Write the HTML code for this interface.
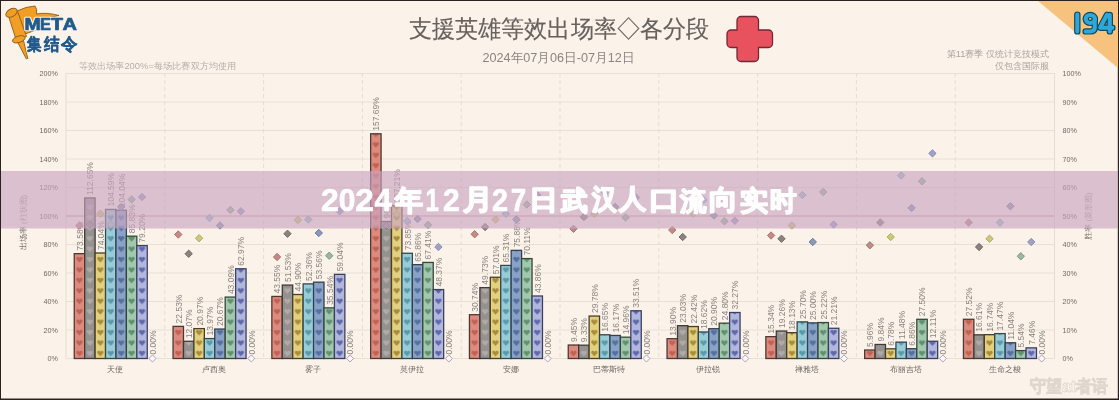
<!DOCTYPE html><html><head><meta charset="utf-8"><style>html,body{margin:0;padding:0;background:#2a2220;}body{width:1119px;height:400px;overflow:hidden;position:relative;font-family:"Liberation Sans",sans-serif;}svg{display:block;position:absolute;left:0;top:0;filter:blur(0.3px);}</style></head><body>
<svg width="1119" height="400" viewBox="0 0 1119 400" font-family="Liberation Sans, sans-serif">
<defs>
<pattern id="p0_0" patternUnits="userSpaceOnUse" x="74.250" y="3.880" width="10.43" height="10.43"><rect width="10.43" height="10.43" fill="#de8a7e"/><path d="M5.2 8.3 L2.3 5.3 Q1.4 3.7 2.8 2.8 Q4.3 2.1 5.2 3.7 Q6.1 2.1 7.6 2.8 Q9.0 3.7 8.1 5.3 Z" fill="#bf6252"/></pattern>
<pattern id="p0_1" patternUnits="userSpaceOnUse" x="84.680" y="3.880" width="10.43" height="10.43"><rect width="10.43" height="10.43" fill="#95918f"/><path d="M5.2 8.3 L2.3 5.3 Q1.4 3.7 2.8 2.8 Q4.3 2.1 5.2 3.7 Q6.1 2.1 7.6 2.8 Q9.0 3.7 8.1 5.3 Z" fill="#b0aaa8"/></pattern>
<pattern id="p0_2" patternUnits="userSpaceOnUse" x="95.110" y="3.880" width="10.43" height="10.43"><rect width="10.43" height="10.43" fill="#e4d17f"/><path d="M5.2 8.3 L2.3 5.3 Q1.4 3.7 2.8 2.8 Q4.3 2.1 5.2 3.7 Q6.1 2.1 7.6 2.8 Q9.0 3.7 8.1 5.3 Z" fill="#a88c3a"/></pattern>
<pattern id="p0_3" patternUnits="userSpaceOnUse" x="105.540" y="3.880" width="10.43" height="10.43"><rect width="10.43" height="10.43" fill="#98cdd8"/><path d="M5.2 8.3 L2.3 5.3 Q1.4 3.7 2.8 2.8 Q4.3 2.1 5.2 3.7 Q6.1 2.1 7.6 2.8 Q9.0 3.7 8.1 5.3 Z" fill="#5a98aa"/></pattern>
<pattern id="p0_4" patternUnits="userSpaceOnUse" x="115.970" y="3.880" width="10.43" height="10.43"><rect width="10.43" height="10.43" fill="#88a2c8"/><path d="M5.2 8.3 L2.3 5.3 Q1.4 3.7 2.8 2.8 Q4.3 2.1 5.2 3.7 Q6.1 2.1 7.6 2.8 Q9.0 3.7 8.1 5.3 Z" fill="#56709e"/></pattern>
<pattern id="p0_5" patternUnits="userSpaceOnUse" x="126.400" y="3.880" width="10.43" height="10.43"><rect width="10.43" height="10.43" fill="#a2c9ae"/><path d="M5.2 8.3 L2.3 5.3 Q1.4 3.7 2.8 2.8 Q4.3 2.1 5.2 3.7 Q6.1 2.1 7.6 2.8 Q9.0 3.7 8.1 5.3 Z" fill="#62906f"/></pattern>
<pattern id="p0_6" patternUnits="userSpaceOnUse" x="136.830" y="3.880" width="10.43" height="10.43"><rect width="10.43" height="10.43" fill="#b2b7de"/><path d="M5.2 8.3 L2.3 5.3 Q1.4 3.7 2.8 2.8 Q4.3 2.1 5.2 3.7 Q6.1 2.1 7.6 2.8 Q9.0 3.7 8.1 5.3 Z" fill="#5f68a8"/></pattern>
<pattern id="p1_0" patternUnits="userSpaceOnUse" x="173.050" y="3.880" width="10.43" height="10.43"><rect width="10.43" height="10.43" fill="#de8a7e"/><path d="M5.2 8.3 L2.3 5.3 Q1.4 3.7 2.8 2.8 Q4.3 2.1 5.2 3.7 Q6.1 2.1 7.6 2.8 Q9.0 3.7 8.1 5.3 Z" fill="#bf6252"/></pattern>
<pattern id="p1_1" patternUnits="userSpaceOnUse" x="183.480" y="3.880" width="10.43" height="10.43"><rect width="10.43" height="10.43" fill="#95918f"/><path d="M5.2 8.3 L2.3 5.3 Q1.4 3.7 2.8 2.8 Q4.3 2.1 5.2 3.7 Q6.1 2.1 7.6 2.8 Q9.0 3.7 8.1 5.3 Z" fill="#b0aaa8"/></pattern>
<pattern id="p1_2" patternUnits="userSpaceOnUse" x="193.910" y="3.880" width="10.43" height="10.43"><rect width="10.43" height="10.43" fill="#e4d17f"/><path d="M5.2 8.3 L2.3 5.3 Q1.4 3.7 2.8 2.8 Q4.3 2.1 5.2 3.7 Q6.1 2.1 7.6 2.8 Q9.0 3.7 8.1 5.3 Z" fill="#a88c3a"/></pattern>
<pattern id="p1_3" patternUnits="userSpaceOnUse" x="204.340" y="3.880" width="10.43" height="10.43"><rect width="10.43" height="10.43" fill="#98cdd8"/><path d="M5.2 8.3 L2.3 5.3 Q1.4 3.7 2.8 2.8 Q4.3 2.1 5.2 3.7 Q6.1 2.1 7.6 2.8 Q9.0 3.7 8.1 5.3 Z" fill="#5a98aa"/></pattern>
<pattern id="p1_4" patternUnits="userSpaceOnUse" x="214.770" y="3.880" width="10.43" height="10.43"><rect width="10.43" height="10.43" fill="#88a2c8"/><path d="M5.2 8.3 L2.3 5.3 Q1.4 3.7 2.8 2.8 Q4.3 2.1 5.2 3.7 Q6.1 2.1 7.6 2.8 Q9.0 3.7 8.1 5.3 Z" fill="#56709e"/></pattern>
<pattern id="p1_5" patternUnits="userSpaceOnUse" x="225.200" y="3.880" width="10.43" height="10.43"><rect width="10.43" height="10.43" fill="#a2c9ae"/><path d="M5.2 8.3 L2.3 5.3 Q1.4 3.7 2.8 2.8 Q4.3 2.1 5.2 3.7 Q6.1 2.1 7.6 2.8 Q9.0 3.7 8.1 5.3 Z" fill="#62906f"/></pattern>
<pattern id="p1_6" patternUnits="userSpaceOnUse" x="235.630" y="3.880" width="10.43" height="10.43"><rect width="10.43" height="10.43" fill="#b2b7de"/><path d="M5.2 8.3 L2.3 5.3 Q1.4 3.7 2.8 2.8 Q4.3 2.1 5.2 3.7 Q6.1 2.1 7.6 2.8 Q9.0 3.7 8.1 5.3 Z" fill="#5f68a8"/></pattern>
<pattern id="p2_0" patternUnits="userSpaceOnUse" x="271.850" y="3.880" width="10.43" height="10.43"><rect width="10.43" height="10.43" fill="#de8a7e"/><path d="M5.2 8.3 L2.3 5.3 Q1.4 3.7 2.8 2.8 Q4.3 2.1 5.2 3.7 Q6.1 2.1 7.6 2.8 Q9.0 3.7 8.1 5.3 Z" fill="#bf6252"/></pattern>
<pattern id="p2_1" patternUnits="userSpaceOnUse" x="282.280" y="3.880" width="10.43" height="10.43"><rect width="10.43" height="10.43" fill="#95918f"/><path d="M5.2 8.3 L2.3 5.3 Q1.4 3.7 2.8 2.8 Q4.3 2.1 5.2 3.7 Q6.1 2.1 7.6 2.8 Q9.0 3.7 8.1 5.3 Z" fill="#b0aaa8"/></pattern>
<pattern id="p2_2" patternUnits="userSpaceOnUse" x="292.710" y="3.880" width="10.43" height="10.43"><rect width="10.43" height="10.43" fill="#e4d17f"/><path d="M5.2 8.3 L2.3 5.3 Q1.4 3.7 2.8 2.8 Q4.3 2.1 5.2 3.7 Q6.1 2.1 7.6 2.8 Q9.0 3.7 8.1 5.3 Z" fill="#a88c3a"/></pattern>
<pattern id="p2_3" patternUnits="userSpaceOnUse" x="303.140" y="3.880" width="10.43" height="10.43"><rect width="10.43" height="10.43" fill="#98cdd8"/><path d="M5.2 8.3 L2.3 5.3 Q1.4 3.7 2.8 2.8 Q4.3 2.1 5.2 3.7 Q6.1 2.1 7.6 2.8 Q9.0 3.7 8.1 5.3 Z" fill="#5a98aa"/></pattern>
<pattern id="p2_4" patternUnits="userSpaceOnUse" x="313.570" y="3.880" width="10.43" height="10.43"><rect width="10.43" height="10.43" fill="#88a2c8"/><path d="M5.2 8.3 L2.3 5.3 Q1.4 3.7 2.8 2.8 Q4.3 2.1 5.2 3.7 Q6.1 2.1 7.6 2.8 Q9.0 3.7 8.1 5.3 Z" fill="#56709e"/></pattern>
<pattern id="p2_5" patternUnits="userSpaceOnUse" x="324.000" y="3.880" width="10.43" height="10.43"><rect width="10.43" height="10.43" fill="#a2c9ae"/><path d="M5.2 8.3 L2.3 5.3 Q1.4 3.7 2.8 2.8 Q4.3 2.1 5.2 3.7 Q6.1 2.1 7.6 2.8 Q9.0 3.7 8.1 5.3 Z" fill="#62906f"/></pattern>
<pattern id="p2_6" patternUnits="userSpaceOnUse" x="334.430" y="3.880" width="10.43" height="10.43"><rect width="10.43" height="10.43" fill="#b2b7de"/><path d="M5.2 8.3 L2.3 5.3 Q1.4 3.7 2.8 2.8 Q4.3 2.1 5.2 3.7 Q6.1 2.1 7.6 2.8 Q9.0 3.7 8.1 5.3 Z" fill="#5f68a8"/></pattern>
<pattern id="p3_0" patternUnits="userSpaceOnUse" x="370.650" y="3.880" width="10.43" height="10.43"><rect width="10.43" height="10.43" fill="#de8a7e"/><path d="M5.2 8.3 L2.3 5.3 Q1.4 3.7 2.8 2.8 Q4.3 2.1 5.2 3.7 Q6.1 2.1 7.6 2.8 Q9.0 3.7 8.1 5.3 Z" fill="#bf6252"/></pattern>
<pattern id="p3_1" patternUnits="userSpaceOnUse" x="381.080" y="3.880" width="10.43" height="10.43"><rect width="10.43" height="10.43" fill="#95918f"/><path d="M5.2 8.3 L2.3 5.3 Q1.4 3.7 2.8 2.8 Q4.3 2.1 5.2 3.7 Q6.1 2.1 7.6 2.8 Q9.0 3.7 8.1 5.3 Z" fill="#b0aaa8"/></pattern>
<pattern id="p3_2" patternUnits="userSpaceOnUse" x="391.510" y="3.880" width="10.43" height="10.43"><rect width="10.43" height="10.43" fill="#e4d17f"/><path d="M5.2 8.3 L2.3 5.3 Q1.4 3.7 2.8 2.8 Q4.3 2.1 5.2 3.7 Q6.1 2.1 7.6 2.8 Q9.0 3.7 8.1 5.3 Z" fill="#a88c3a"/></pattern>
<pattern id="p3_3" patternUnits="userSpaceOnUse" x="401.940" y="3.880" width="10.43" height="10.43"><rect width="10.43" height="10.43" fill="#98cdd8"/><path d="M5.2 8.3 L2.3 5.3 Q1.4 3.7 2.8 2.8 Q4.3 2.1 5.2 3.7 Q6.1 2.1 7.6 2.8 Q9.0 3.7 8.1 5.3 Z" fill="#5a98aa"/></pattern>
<pattern id="p3_4" patternUnits="userSpaceOnUse" x="412.370" y="3.880" width="10.43" height="10.43"><rect width="10.43" height="10.43" fill="#88a2c8"/><path d="M5.2 8.3 L2.3 5.3 Q1.4 3.7 2.8 2.8 Q4.3 2.1 5.2 3.7 Q6.1 2.1 7.6 2.8 Q9.0 3.7 8.1 5.3 Z" fill="#56709e"/></pattern>
<pattern id="p3_5" patternUnits="userSpaceOnUse" x="422.800" y="3.880" width="10.43" height="10.43"><rect width="10.43" height="10.43" fill="#a2c9ae"/><path d="M5.2 8.3 L2.3 5.3 Q1.4 3.7 2.8 2.8 Q4.3 2.1 5.2 3.7 Q6.1 2.1 7.6 2.8 Q9.0 3.7 8.1 5.3 Z" fill="#62906f"/></pattern>
<pattern id="p3_6" patternUnits="userSpaceOnUse" x="433.230" y="3.880" width="10.43" height="10.43"><rect width="10.43" height="10.43" fill="#b2b7de"/><path d="M5.2 8.3 L2.3 5.3 Q1.4 3.7 2.8 2.8 Q4.3 2.1 5.2 3.7 Q6.1 2.1 7.6 2.8 Q9.0 3.7 8.1 5.3 Z" fill="#5f68a8"/></pattern>
<pattern id="p4_0" patternUnits="userSpaceOnUse" x="469.450" y="3.880" width="10.43" height="10.43"><rect width="10.43" height="10.43" fill="#de8a7e"/><path d="M5.2 8.3 L2.3 5.3 Q1.4 3.7 2.8 2.8 Q4.3 2.1 5.2 3.7 Q6.1 2.1 7.6 2.8 Q9.0 3.7 8.1 5.3 Z" fill="#bf6252"/></pattern>
<pattern id="p4_1" patternUnits="userSpaceOnUse" x="479.880" y="3.880" width="10.43" height="10.43"><rect width="10.43" height="10.43" fill="#95918f"/><path d="M5.2 8.3 L2.3 5.3 Q1.4 3.7 2.8 2.8 Q4.3 2.1 5.2 3.7 Q6.1 2.1 7.6 2.8 Q9.0 3.7 8.1 5.3 Z" fill="#b0aaa8"/></pattern>
<pattern id="p4_2" patternUnits="userSpaceOnUse" x="490.310" y="3.880" width="10.43" height="10.43"><rect width="10.43" height="10.43" fill="#e4d17f"/><path d="M5.2 8.3 L2.3 5.3 Q1.4 3.7 2.8 2.8 Q4.3 2.1 5.2 3.7 Q6.1 2.1 7.6 2.8 Q9.0 3.7 8.1 5.3 Z" fill="#a88c3a"/></pattern>
<pattern id="p4_3" patternUnits="userSpaceOnUse" x="500.740" y="3.880" width="10.43" height="10.43"><rect width="10.43" height="10.43" fill="#98cdd8"/><path d="M5.2 8.3 L2.3 5.3 Q1.4 3.7 2.8 2.8 Q4.3 2.1 5.2 3.7 Q6.1 2.1 7.6 2.8 Q9.0 3.7 8.1 5.3 Z" fill="#5a98aa"/></pattern>
<pattern id="p4_4" patternUnits="userSpaceOnUse" x="511.170" y="3.880" width="10.43" height="10.43"><rect width="10.43" height="10.43" fill="#88a2c8"/><path d="M5.2 8.3 L2.3 5.3 Q1.4 3.7 2.8 2.8 Q4.3 2.1 5.2 3.7 Q6.1 2.1 7.6 2.8 Q9.0 3.7 8.1 5.3 Z" fill="#56709e"/></pattern>
<pattern id="p4_5" patternUnits="userSpaceOnUse" x="521.600" y="3.880" width="10.43" height="10.43"><rect width="10.43" height="10.43" fill="#a2c9ae"/><path d="M5.2 8.3 L2.3 5.3 Q1.4 3.7 2.8 2.8 Q4.3 2.1 5.2 3.7 Q6.1 2.1 7.6 2.8 Q9.0 3.7 8.1 5.3 Z" fill="#62906f"/></pattern>
<pattern id="p4_6" patternUnits="userSpaceOnUse" x="532.030" y="3.880" width="10.43" height="10.43"><rect width="10.43" height="10.43" fill="#b2b7de"/><path d="M5.2 8.3 L2.3 5.3 Q1.4 3.7 2.8 2.8 Q4.3 2.1 5.2 3.7 Q6.1 2.1 7.6 2.8 Q9.0 3.7 8.1 5.3 Z" fill="#5f68a8"/></pattern>
<pattern id="p5_0" patternUnits="userSpaceOnUse" x="568.250" y="3.880" width="10.43" height="10.43"><rect width="10.43" height="10.43" fill="#de8a7e"/><path d="M5.2 8.3 L2.3 5.3 Q1.4 3.7 2.8 2.8 Q4.3 2.1 5.2 3.7 Q6.1 2.1 7.6 2.8 Q9.0 3.7 8.1 5.3 Z" fill="#bf6252"/></pattern>
<pattern id="p5_1" patternUnits="userSpaceOnUse" x="578.680" y="3.880" width="10.43" height="10.43"><rect width="10.43" height="10.43" fill="#95918f"/><path d="M5.2 8.3 L2.3 5.3 Q1.4 3.7 2.8 2.8 Q4.3 2.1 5.2 3.7 Q6.1 2.1 7.6 2.8 Q9.0 3.7 8.1 5.3 Z" fill="#b0aaa8"/></pattern>
<pattern id="p5_2" patternUnits="userSpaceOnUse" x="589.110" y="3.880" width="10.43" height="10.43"><rect width="10.43" height="10.43" fill="#e4d17f"/><path d="M5.2 8.3 L2.3 5.3 Q1.4 3.7 2.8 2.8 Q4.3 2.1 5.2 3.7 Q6.1 2.1 7.6 2.8 Q9.0 3.7 8.1 5.3 Z" fill="#a88c3a"/></pattern>
<pattern id="p5_3" patternUnits="userSpaceOnUse" x="599.540" y="3.880" width="10.43" height="10.43"><rect width="10.43" height="10.43" fill="#98cdd8"/><path d="M5.2 8.3 L2.3 5.3 Q1.4 3.7 2.8 2.8 Q4.3 2.1 5.2 3.7 Q6.1 2.1 7.6 2.8 Q9.0 3.7 8.1 5.3 Z" fill="#5a98aa"/></pattern>
<pattern id="p5_4" patternUnits="userSpaceOnUse" x="609.970" y="3.880" width="10.43" height="10.43"><rect width="10.43" height="10.43" fill="#88a2c8"/><path d="M5.2 8.3 L2.3 5.3 Q1.4 3.7 2.8 2.8 Q4.3 2.1 5.2 3.7 Q6.1 2.1 7.6 2.8 Q9.0 3.7 8.1 5.3 Z" fill="#56709e"/></pattern>
<pattern id="p5_5" patternUnits="userSpaceOnUse" x="620.400" y="3.880" width="10.43" height="10.43"><rect width="10.43" height="10.43" fill="#a2c9ae"/><path d="M5.2 8.3 L2.3 5.3 Q1.4 3.7 2.8 2.8 Q4.3 2.1 5.2 3.7 Q6.1 2.1 7.6 2.8 Q9.0 3.7 8.1 5.3 Z" fill="#62906f"/></pattern>
<pattern id="p5_6" patternUnits="userSpaceOnUse" x="630.830" y="3.880" width="10.43" height="10.43"><rect width="10.43" height="10.43" fill="#b2b7de"/><path d="M5.2 8.3 L2.3 5.3 Q1.4 3.7 2.8 2.8 Q4.3 2.1 5.2 3.7 Q6.1 2.1 7.6 2.8 Q9.0 3.7 8.1 5.3 Z" fill="#5f68a8"/></pattern>
<pattern id="p6_0" patternUnits="userSpaceOnUse" x="667.050" y="3.880" width="10.43" height="10.43"><rect width="10.43" height="10.43" fill="#de8a7e"/><path d="M5.2 8.3 L2.3 5.3 Q1.4 3.7 2.8 2.8 Q4.3 2.1 5.2 3.7 Q6.1 2.1 7.6 2.8 Q9.0 3.7 8.1 5.3 Z" fill="#bf6252"/></pattern>
<pattern id="p6_1" patternUnits="userSpaceOnUse" x="677.480" y="3.880" width="10.43" height="10.43"><rect width="10.43" height="10.43" fill="#95918f"/><path d="M5.2 8.3 L2.3 5.3 Q1.4 3.7 2.8 2.8 Q4.3 2.1 5.2 3.7 Q6.1 2.1 7.6 2.8 Q9.0 3.7 8.1 5.3 Z" fill="#b0aaa8"/></pattern>
<pattern id="p6_2" patternUnits="userSpaceOnUse" x="687.910" y="3.880" width="10.43" height="10.43"><rect width="10.43" height="10.43" fill="#e4d17f"/><path d="M5.2 8.3 L2.3 5.3 Q1.4 3.7 2.8 2.8 Q4.3 2.1 5.2 3.7 Q6.1 2.1 7.6 2.8 Q9.0 3.7 8.1 5.3 Z" fill="#a88c3a"/></pattern>
<pattern id="p6_3" patternUnits="userSpaceOnUse" x="698.340" y="3.880" width="10.43" height="10.43"><rect width="10.43" height="10.43" fill="#98cdd8"/><path d="M5.2 8.3 L2.3 5.3 Q1.4 3.7 2.8 2.8 Q4.3 2.1 5.2 3.7 Q6.1 2.1 7.6 2.8 Q9.0 3.7 8.1 5.3 Z" fill="#5a98aa"/></pattern>
<pattern id="p6_4" patternUnits="userSpaceOnUse" x="708.770" y="3.880" width="10.43" height="10.43"><rect width="10.43" height="10.43" fill="#88a2c8"/><path d="M5.2 8.3 L2.3 5.3 Q1.4 3.7 2.8 2.8 Q4.3 2.1 5.2 3.7 Q6.1 2.1 7.6 2.8 Q9.0 3.7 8.1 5.3 Z" fill="#56709e"/></pattern>
<pattern id="p6_5" patternUnits="userSpaceOnUse" x="719.200" y="3.880" width="10.43" height="10.43"><rect width="10.43" height="10.43" fill="#a2c9ae"/><path d="M5.2 8.3 L2.3 5.3 Q1.4 3.7 2.8 2.8 Q4.3 2.1 5.2 3.7 Q6.1 2.1 7.6 2.8 Q9.0 3.7 8.1 5.3 Z" fill="#62906f"/></pattern>
<pattern id="p6_6" patternUnits="userSpaceOnUse" x="729.630" y="3.880" width="10.43" height="10.43"><rect width="10.43" height="10.43" fill="#b2b7de"/><path d="M5.2 8.3 L2.3 5.3 Q1.4 3.7 2.8 2.8 Q4.3 2.1 5.2 3.7 Q6.1 2.1 7.6 2.8 Q9.0 3.7 8.1 5.3 Z" fill="#5f68a8"/></pattern>
<pattern id="p7_0" patternUnits="userSpaceOnUse" x="765.850" y="3.880" width="10.43" height="10.43"><rect width="10.43" height="10.43" fill="#de8a7e"/><path d="M5.2 8.3 L2.3 5.3 Q1.4 3.7 2.8 2.8 Q4.3 2.1 5.2 3.7 Q6.1 2.1 7.6 2.8 Q9.0 3.7 8.1 5.3 Z" fill="#bf6252"/></pattern>
<pattern id="p7_1" patternUnits="userSpaceOnUse" x="776.280" y="3.880" width="10.43" height="10.43"><rect width="10.43" height="10.43" fill="#95918f"/><path d="M5.2 8.3 L2.3 5.3 Q1.4 3.7 2.8 2.8 Q4.3 2.1 5.2 3.7 Q6.1 2.1 7.6 2.8 Q9.0 3.7 8.1 5.3 Z" fill="#b0aaa8"/></pattern>
<pattern id="p7_2" patternUnits="userSpaceOnUse" x="786.710" y="3.880" width="10.43" height="10.43"><rect width="10.43" height="10.43" fill="#e4d17f"/><path d="M5.2 8.3 L2.3 5.3 Q1.4 3.7 2.8 2.8 Q4.3 2.1 5.2 3.7 Q6.1 2.1 7.6 2.8 Q9.0 3.7 8.1 5.3 Z" fill="#a88c3a"/></pattern>
<pattern id="p7_3" patternUnits="userSpaceOnUse" x="797.140" y="3.880" width="10.43" height="10.43"><rect width="10.43" height="10.43" fill="#98cdd8"/><path d="M5.2 8.3 L2.3 5.3 Q1.4 3.7 2.8 2.8 Q4.3 2.1 5.2 3.7 Q6.1 2.1 7.6 2.8 Q9.0 3.7 8.1 5.3 Z" fill="#5a98aa"/></pattern>
<pattern id="p7_4" patternUnits="userSpaceOnUse" x="807.570" y="3.880" width="10.43" height="10.43"><rect width="10.43" height="10.43" fill="#88a2c8"/><path d="M5.2 8.3 L2.3 5.3 Q1.4 3.7 2.8 2.8 Q4.3 2.1 5.2 3.7 Q6.1 2.1 7.6 2.8 Q9.0 3.7 8.1 5.3 Z" fill="#56709e"/></pattern>
<pattern id="p7_5" patternUnits="userSpaceOnUse" x="818.000" y="3.880" width="10.43" height="10.43"><rect width="10.43" height="10.43" fill="#a2c9ae"/><path d="M5.2 8.3 L2.3 5.3 Q1.4 3.7 2.8 2.8 Q4.3 2.1 5.2 3.7 Q6.1 2.1 7.6 2.8 Q9.0 3.7 8.1 5.3 Z" fill="#62906f"/></pattern>
<pattern id="p7_6" patternUnits="userSpaceOnUse" x="828.430" y="3.880" width="10.43" height="10.43"><rect width="10.43" height="10.43" fill="#b2b7de"/><path d="M5.2 8.3 L2.3 5.3 Q1.4 3.7 2.8 2.8 Q4.3 2.1 5.2 3.7 Q6.1 2.1 7.6 2.8 Q9.0 3.7 8.1 5.3 Z" fill="#5f68a8"/></pattern>
<pattern id="p8_0" patternUnits="userSpaceOnUse" x="864.650" y="3.880" width="10.43" height="10.43"><rect width="10.43" height="10.43" fill="#de8a7e"/><path d="M5.2 8.3 L2.3 5.3 Q1.4 3.7 2.8 2.8 Q4.3 2.1 5.2 3.7 Q6.1 2.1 7.6 2.8 Q9.0 3.7 8.1 5.3 Z" fill="#bf6252"/></pattern>
<pattern id="p8_1" patternUnits="userSpaceOnUse" x="875.080" y="3.880" width="10.43" height="10.43"><rect width="10.43" height="10.43" fill="#95918f"/><path d="M5.2 8.3 L2.3 5.3 Q1.4 3.7 2.8 2.8 Q4.3 2.1 5.2 3.7 Q6.1 2.1 7.6 2.8 Q9.0 3.7 8.1 5.3 Z" fill="#b0aaa8"/></pattern>
<pattern id="p8_2" patternUnits="userSpaceOnUse" x="885.510" y="3.880" width="10.43" height="10.43"><rect width="10.43" height="10.43" fill="#e4d17f"/><path d="M5.2 8.3 L2.3 5.3 Q1.4 3.7 2.8 2.8 Q4.3 2.1 5.2 3.7 Q6.1 2.1 7.6 2.8 Q9.0 3.7 8.1 5.3 Z" fill="#a88c3a"/></pattern>
<pattern id="p8_3" patternUnits="userSpaceOnUse" x="895.940" y="3.880" width="10.43" height="10.43"><rect width="10.43" height="10.43" fill="#98cdd8"/><path d="M5.2 8.3 L2.3 5.3 Q1.4 3.7 2.8 2.8 Q4.3 2.1 5.2 3.7 Q6.1 2.1 7.6 2.8 Q9.0 3.7 8.1 5.3 Z" fill="#5a98aa"/></pattern>
<pattern id="p8_4" patternUnits="userSpaceOnUse" x="906.370" y="3.880" width="10.43" height="10.43"><rect width="10.43" height="10.43" fill="#88a2c8"/><path d="M5.2 8.3 L2.3 5.3 Q1.4 3.7 2.8 2.8 Q4.3 2.1 5.2 3.7 Q6.1 2.1 7.6 2.8 Q9.0 3.7 8.1 5.3 Z" fill="#56709e"/></pattern>
<pattern id="p8_5" patternUnits="userSpaceOnUse" x="916.800" y="3.880" width="10.43" height="10.43"><rect width="10.43" height="10.43" fill="#a2c9ae"/><path d="M5.2 8.3 L2.3 5.3 Q1.4 3.7 2.8 2.8 Q4.3 2.1 5.2 3.7 Q6.1 2.1 7.6 2.8 Q9.0 3.7 8.1 5.3 Z" fill="#62906f"/></pattern>
<pattern id="p8_6" patternUnits="userSpaceOnUse" x="927.230" y="3.880" width="10.43" height="10.43"><rect width="10.43" height="10.43" fill="#b2b7de"/><path d="M5.2 8.3 L2.3 5.3 Q1.4 3.7 2.8 2.8 Q4.3 2.1 5.2 3.7 Q6.1 2.1 7.6 2.8 Q9.0 3.7 8.1 5.3 Z" fill="#5f68a8"/></pattern>
<pattern id="p9_0" patternUnits="userSpaceOnUse" x="963.450" y="3.880" width="10.43" height="10.43"><rect width="10.43" height="10.43" fill="#de8a7e"/><path d="M5.2 8.3 L2.3 5.3 Q1.4 3.7 2.8 2.8 Q4.3 2.1 5.2 3.7 Q6.1 2.1 7.6 2.8 Q9.0 3.7 8.1 5.3 Z" fill="#bf6252"/></pattern>
<pattern id="p9_1" patternUnits="userSpaceOnUse" x="973.880" y="3.880" width="10.43" height="10.43"><rect width="10.43" height="10.43" fill="#95918f"/><path d="M5.2 8.3 L2.3 5.3 Q1.4 3.7 2.8 2.8 Q4.3 2.1 5.2 3.7 Q6.1 2.1 7.6 2.8 Q9.0 3.7 8.1 5.3 Z" fill="#b0aaa8"/></pattern>
<pattern id="p9_2" patternUnits="userSpaceOnUse" x="984.310" y="3.880" width="10.43" height="10.43"><rect width="10.43" height="10.43" fill="#e4d17f"/><path d="M5.2 8.3 L2.3 5.3 Q1.4 3.7 2.8 2.8 Q4.3 2.1 5.2 3.7 Q6.1 2.1 7.6 2.8 Q9.0 3.7 8.1 5.3 Z" fill="#a88c3a"/></pattern>
<pattern id="p9_3" patternUnits="userSpaceOnUse" x="994.740" y="3.880" width="10.43" height="10.43"><rect width="10.43" height="10.43" fill="#98cdd8"/><path d="M5.2 8.3 L2.3 5.3 Q1.4 3.7 2.8 2.8 Q4.3 2.1 5.2 3.7 Q6.1 2.1 7.6 2.8 Q9.0 3.7 8.1 5.3 Z" fill="#5a98aa"/></pattern>
<pattern id="p9_4" patternUnits="userSpaceOnUse" x="1005.170" y="3.880" width="10.43" height="10.43"><rect width="10.43" height="10.43" fill="#88a2c8"/><path d="M5.2 8.3 L2.3 5.3 Q1.4 3.7 2.8 2.8 Q4.3 2.1 5.2 3.7 Q6.1 2.1 7.6 2.8 Q9.0 3.7 8.1 5.3 Z" fill="#56709e"/></pattern>
<pattern id="p9_5" patternUnits="userSpaceOnUse" x="1015.600" y="3.880" width="10.43" height="10.43"><rect width="10.43" height="10.43" fill="#a2c9ae"/><path d="M5.2 8.3 L2.3 5.3 Q1.4 3.7 2.8 2.8 Q4.3 2.1 5.2 3.7 Q6.1 2.1 7.6 2.8 Q9.0 3.7 8.1 5.3 Z" fill="#62906f"/></pattern>
<pattern id="p9_6" patternUnits="userSpaceOnUse" x="1026.030" y="3.880" width="10.43" height="10.43"><rect width="10.43" height="10.43" fill="#b2b7de"/><path d="M5.2 8.3 L2.3 5.3 Q1.4 3.7 2.8 2.8 Q4.3 2.1 5.2 3.7 Q6.1 2.1 7.6 2.8 Q9.0 3.7 8.1 5.3 Z" fill="#5f68a8"/></pattern>
</defs>
<rect x="0" y="0" width="1119" height="400" fill="#2a2220"/>
<rect x="1" y="1" width="1116.8" height="397.5" fill="#fbf3ea"/>
<polygon points="1038,1 1118,1 1118,68" fill="#f7c27e"/>
<line x1="66" y1="358.5" x2="1054" y2="358.5" stroke="#e9e0d4" stroke-width="1"/>
<line x1="66" y1="330.0" x2="1054" y2="330.0" stroke="#e9e0d4" stroke-width="1"/>
<line x1="66" y1="301.5" x2="1054" y2="301.5" stroke="#e9e0d4" stroke-width="1"/>
<line x1="66" y1="273.0" x2="1054" y2="273.0" stroke="#e9e0d4" stroke-width="1"/>
<line x1="66" y1="244.5" x2="1054" y2="244.5" stroke="#e9e0d4" stroke-width="1"/>
<line x1="66" y1="216.0" x2="1054" y2="216.0" stroke="#e9e0d4" stroke-width="1"/>
<line x1="66" y1="187.5" x2="1054" y2="187.5" stroke="#e9e0d4" stroke-width="1"/>
<line x1="66" y1="159.0" x2="1054" y2="159.0" stroke="#e9e0d4" stroke-width="1"/>
<line x1="66" y1="130.5" x2="1054" y2="130.5" stroke="#e9e0d4" stroke-width="1"/>
<line x1="66" y1="102.0" x2="1054" y2="102.0" stroke="#e9e0d4" stroke-width="1"/>
<line x1="66" y1="73.5" x2="1054" y2="73.5" stroke="#e9e0d4" stroke-width="1"/>
<line x1="164.8" y1="73" x2="164.8" y2="358.5" stroke="#e6ddd1" stroke-width="1" stroke-dasharray="4,3"/>
<line x1="263.6" y1="73" x2="263.6" y2="358.5" stroke="#e6ddd1" stroke-width="1" stroke-dasharray="4,3"/>
<line x1="362.4" y1="73" x2="362.4" y2="358.5" stroke="#e6ddd1" stroke-width="1" stroke-dasharray="4,3"/>
<line x1="461.2" y1="73" x2="461.2" y2="358.5" stroke="#e6ddd1" stroke-width="1" stroke-dasharray="4,3"/>
<line x1="560.0" y1="73" x2="560.0" y2="358.5" stroke="#e6ddd1" stroke-width="1" stroke-dasharray="4,3"/>
<line x1="658.8" y1="73" x2="658.8" y2="358.5" stroke="#e6ddd1" stroke-width="1" stroke-dasharray="4,3"/>
<line x1="757.6" y1="73" x2="757.6" y2="358.5" stroke="#e6ddd1" stroke-width="1" stroke-dasharray="4,3"/>
<line x1="856.4" y1="73" x2="856.4" y2="358.5" stroke="#e6ddd1" stroke-width="1" stroke-dasharray="4,3"/>
<line x1="955.2" y1="73" x2="955.2" y2="358.5" stroke="#e6ddd1" stroke-width="1" stroke-dasharray="4,3"/>
<line x1="66" y1="73" x2="66" y2="358.5" stroke="#e6ddd0" stroke-width="1"/>
<line x1="1054.5" y1="73" x2="1054.5" y2="358.5" stroke="#e6ddd0" stroke-width="1"/>
<line x1="66" y1="216" x2="1054" y2="216" stroke="#d4959a" stroke-width="0.9"/>
<text x="58" y="361.2" font-size="7.2" fill="#6f6a66" text-anchor="end">0%</text>
<text x="1062.5" y="361.2" font-size="7.2" fill="#6f6a66">0%</text>
<text x="58" y="332.7" font-size="7.2" fill="#6f6a66" text-anchor="end">20%</text>
<text x="1062.5" y="332.7" font-size="7.2" fill="#6f6a66">10%</text>
<text x="58" y="304.2" font-size="7.2" fill="#6f6a66" text-anchor="end">40%</text>
<text x="1062.5" y="304.2" font-size="7.2" fill="#6f6a66">20%</text>
<text x="58" y="275.7" font-size="7.2" fill="#6f6a66" text-anchor="end">60%</text>
<text x="1062.5" y="275.7" font-size="7.2" fill="#6f6a66">30%</text>
<text x="58" y="247.2" font-size="7.2" fill="#6f6a66" text-anchor="end">80%</text>
<text x="1062.5" y="247.2" font-size="7.2" fill="#6f6a66">40%</text>
<text x="58" y="218.7" font-size="7.2" fill="#6f6a66" text-anchor="end">100%</text>
<text x="1062.5" y="218.7" font-size="7.2" fill="#6f6a66">50%</text>
<text x="58" y="190.2" font-size="7.2" fill="#6f6a66" text-anchor="end">120%</text>
<text x="1062.5" y="190.2" font-size="7.2" fill="#6f6a66">60%</text>
<text x="58" y="161.7" font-size="7.2" fill="#6f6a66" text-anchor="end">140%</text>
<text x="1062.5" y="161.7" font-size="7.2" fill="#6f6a66">70%</text>
<text x="58" y="133.2" font-size="7.2" fill="#6f6a66" text-anchor="end">160%</text>
<text x="1062.5" y="133.2" font-size="7.2" fill="#6f6a66">80%</text>
<text x="58" y="104.7" font-size="7.2" fill="#6f6a66" text-anchor="end">180%</text>
<text x="1062.5" y="104.7" font-size="7.2" fill="#6f6a66">90%</text>
<text x="58" y="76.2" font-size="7.2" fill="#6f6a66" text-anchor="end">200%</text>
<text x="1062.5" y="76.2" font-size="7.2" fill="#6f6a66">100%</text>
<rect x="74.25" y="253.65" width="10.43" height="104.85" fill="url(#p0_0)" stroke="#4a3a36" stroke-width="1.3"/>
<rect x="84.68" y="197.97" width="10.43" height="160.53" fill="url(#p0_1)" stroke="#3e3a38" stroke-width="1.3"/>
<rect x="95.11" y="252.99" width="10.43" height="105.51" fill="url(#p0_2)" stroke="#463e2a" stroke-width="1.3"/>
<rect x="105.54" y="209.46" width="10.43" height="149.04" fill="url(#p0_3)" stroke="#34474c" stroke-width="1.3"/>
<rect x="115.97" y="210.24" width="10.43" height="148.26" fill="url(#p0_4)" stroke="#34404e" stroke-width="1.3"/>
<rect x="126.40" y="236.19" width="10.43" height="122.31" fill="url(#p0_5)" stroke="#36463a" stroke-width="1.3"/>
<rect x="136.83" y="245.64" width="10.43" height="112.86" fill="url(#p0_6)" stroke="#3c4060" stroke-width="1.3"/>
<text transform="translate(82.87,250.65) rotate(-90) scale(1.0,1.12)" font-size="8.5" fill="#8a847f">73.58%</text>
<text transform="translate(93.30,194.97) rotate(-90) scale(1.0,1.12)" font-size="8.5" fill="#8a847f">112.65%</text>
<text transform="translate(103.73,249.99) rotate(-90) scale(1.0,1.12)" font-size="8.5" fill="#8a847f">74.04%</text>
<text transform="translate(114.16,206.46) rotate(-90) scale(1.0,1.12)" font-size="8.5" fill="#8a847f">104.59%</text>
<text transform="translate(124.59,207.24) rotate(-90) scale(1.0,1.12)" font-size="8.5" fill="#8a847f">104.04%</text>
<text transform="translate(135.02,233.19) rotate(-90) scale(1.0,1.12)" font-size="8.5" fill="#8a847f">85.83%</text>
<text transform="translate(145.44,242.64) rotate(-90) scale(1.0,1.12)" font-size="8.5" fill="#8a847f">79.20%</text>
<text transform="translate(155.88,354.50) rotate(-90) scale(1.0,1.12)" font-size="8.5" fill="#8a847f">0.00%</text>
<rect x="149.97" y="356.00" width="5" height="5" transform="rotate(45 152.47 358.50)" fill="#fbf7f4" stroke="#a8a0b4" stroke-width="0.9"/>
<rect x="76.87" y="222.90" width="5.2" height="5.2" transform="rotate(45 79.47 225.50)" fill="#c48a86" stroke="#a87070" stroke-width="0.9"/>
<rect x="87.30" y="221.90" width="5.2" height="5.2" transform="rotate(45 89.90 224.50)" fill="#8a8480" stroke="#6e6864" stroke-width="0.9"/>
<rect x="97.73" y="211.15" width="5.2" height="5.2" transform="rotate(45 100.33 213.75)" fill="#cfc878" stroke="#b0a860" stroke-width="0.9"/>
<rect x="108.16" y="221.90" width="5.2" height="5.2" transform="rotate(45 110.75 224.50)" fill="#9cc4cc" stroke="#7aa4b0" stroke-width="0.9"/>
<rect x="118.59" y="204.40" width="5.2" height="5.2" transform="rotate(45 121.19 207.00)" fill="#8a9ab4" stroke="#6878a0" stroke-width="0.9"/>
<rect x="129.02" y="196.90" width="5.2" height="5.2" transform="rotate(45 131.62 199.50)" fill="#98b8a0" stroke="#789880" stroke-width="0.9"/>
<rect x="139.44" y="194.40" width="5.2" height="5.2" transform="rotate(45 142.04 197.00)" fill="#9ea2c4" stroke="#8888b8" stroke-width="0.9"/>
<text x="115.4" y="371.9" font-size="8.3" fill="#6e6964" text-anchor="middle">天使</text>
<rect x="173.05" y="326.39" width="10.43" height="32.11" fill="url(#p1_0)" stroke="#4a3a36" stroke-width="1.3"/>
<rect x="183.48" y="341.30" width="10.43" height="17.20" fill="url(#p1_1)" stroke="#3e3a38" stroke-width="1.3"/>
<rect x="193.91" y="328.62" width="10.43" height="29.88" fill="url(#p1_2)" stroke="#463e2a" stroke-width="1.3"/>
<rect x="204.34" y="338.59" width="10.43" height="19.91" fill="url(#p1_3)" stroke="#34474c" stroke-width="1.3"/>
<rect x="214.77" y="329.05" width="10.43" height="29.45" fill="url(#p1_4)" stroke="#34404e" stroke-width="1.3"/>
<rect x="225.20" y="297.10" width="10.43" height="61.40" fill="url(#p1_5)" stroke="#36463a" stroke-width="1.3"/>
<rect x="235.63" y="268.77" width="10.43" height="89.73" fill="url(#p1_6)" stroke="#3c4060" stroke-width="1.3"/>
<text transform="translate(181.67,323.39) rotate(-90) scale(1.0,1.12)" font-size="8.5" fill="#8a847f">22.53%</text>
<text transform="translate(192.10,338.30) rotate(-90) scale(1.0,1.12)" font-size="8.5" fill="#8a847f">12.07%</text>
<text transform="translate(202.53,325.62) rotate(-90) scale(1.0,1.12)" font-size="8.5" fill="#8a847f">20.97%</text>
<text transform="translate(212.96,335.59) rotate(-90) scale(1.0,1.12)" font-size="8.5" fill="#8a847f">13.97%</text>
<text transform="translate(223.39,326.05) rotate(-90) scale(1.0,1.12)" font-size="8.5" fill="#8a847f">20.67%</text>
<text transform="translate(233.82,294.10) rotate(-90) scale(1.0,1.12)" font-size="8.5" fill="#8a847f">43.09%</text>
<text transform="translate(244.25,265.77) rotate(-90) scale(1.0,1.12)" font-size="8.5" fill="#8a847f">62.97%</text>
<text transform="translate(254.68,354.50) rotate(-90) scale(1.0,1.12)" font-size="8.5" fill="#8a847f">0.00%</text>
<rect x="248.78" y="356.00" width="5" height="5" transform="rotate(45 251.28 358.50)" fill="#fbf7f4" stroke="#a8a0b4" stroke-width="0.9"/>
<rect x="175.67" y="231.90" width="5.2" height="5.2" transform="rotate(45 178.27 234.50)" fill="#c48a86" stroke="#a87070" stroke-width="0.9"/>
<rect x="186.10" y="251.15" width="5.2" height="5.2" transform="rotate(45 188.70 253.75)" fill="#8a8480" stroke="#6e6864" stroke-width="0.9"/>
<rect x="196.53" y="235.65" width="5.2" height="5.2" transform="rotate(45 199.13 238.25)" fill="#cfc878" stroke="#b0a860" stroke-width="0.9"/>
<rect x="206.96" y="215.40" width="5.2" height="5.2" transform="rotate(45 209.56 218.00)" fill="#9cc4cc" stroke="#7aa4b0" stroke-width="0.9"/>
<rect x="217.39" y="222.90" width="5.2" height="5.2" transform="rotate(45 219.99 225.50)" fill="#8a9ab4" stroke="#6878a0" stroke-width="0.9"/>
<rect x="227.82" y="207.40" width="5.2" height="5.2" transform="rotate(45 230.42 210.00)" fill="#98b8a0" stroke="#789880" stroke-width="0.9"/>
<rect x="238.25" y="208.65" width="5.2" height="5.2" transform="rotate(45 240.84 211.25)" fill="#9ea2c4" stroke="#8888b8" stroke-width="0.9"/>
<text x="214.2" y="371.9" font-size="8.3" fill="#6e6964" text-anchor="middle">卢西奥</text>
<rect x="271.85" y="296.44" width="10.43" height="62.06" fill="url(#p2_0)" stroke="#4a3a36" stroke-width="1.3"/>
<rect x="282.28" y="285.07" width="10.43" height="73.43" fill="url(#p2_1)" stroke="#3e3a38" stroke-width="1.3"/>
<rect x="292.71" y="294.52" width="10.43" height="63.98" fill="url(#p2_2)" stroke="#463e2a" stroke-width="1.3"/>
<rect x="303.14" y="283.89" width="10.43" height="74.61" fill="url(#p2_3)" stroke="#34474c" stroke-width="1.3"/>
<rect x="313.57" y="282.18" width="10.43" height="76.32" fill="url(#p2_4)" stroke="#34404e" stroke-width="1.3"/>
<rect x="324.00" y="307.86" width="10.43" height="50.64" fill="url(#p2_5)" stroke="#36463a" stroke-width="1.3"/>
<rect x="334.43" y="274.37" width="10.43" height="84.13" fill="url(#p2_6)" stroke="#3c4060" stroke-width="1.3"/>
<text transform="translate(280.46,293.44) rotate(-90) scale(1.0,1.12)" font-size="8.5" fill="#8a847f">43.55%</text>
<text transform="translate(290.89,282.07) rotate(-90) scale(1.0,1.12)" font-size="8.5" fill="#8a847f">51.53%</text>
<text transform="translate(301.32,291.52) rotate(-90) scale(1.0,1.12)" font-size="8.5" fill="#8a847f">44.90%</text>
<text transform="translate(311.75,280.89) rotate(-90) scale(1.0,1.12)" font-size="8.5" fill="#8a847f">52.36%</text>
<text transform="translate(322.19,279.18) rotate(-90) scale(1.0,1.12)" font-size="8.5" fill="#8a847f">53.56%</text>
<text transform="translate(332.61,304.86) rotate(-90) scale(1.0,1.12)" font-size="8.5" fill="#8a847f">35.54%</text>
<text transform="translate(343.04,271.37) rotate(-90) scale(1.0,1.12)" font-size="8.5" fill="#8a847f">59.04%</text>
<text transform="translate(353.47,354.50) rotate(-90) scale(1.0,1.12)" font-size="8.5" fill="#8a847f">0.00%</text>
<rect x="347.57" y="356.00" width="5" height="5" transform="rotate(45 350.07 358.50)" fill="#fbf7f4" stroke="#a8a0b4" stroke-width="0.9"/>
<rect x="274.46" y="254.40" width="5.2" height="5.2" transform="rotate(45 277.06 257.00)" fill="#c48a86" stroke="#a87070" stroke-width="0.9"/>
<rect x="284.89" y="231.15" width="5.2" height="5.2" transform="rotate(45 287.50 233.75)" fill="#8a8480" stroke="#6e6864" stroke-width="0.9"/>
<rect x="295.32" y="217.40" width="5.2" height="5.2" transform="rotate(45 297.93 220.00)" fill="#cfc878" stroke="#b0a860" stroke-width="0.9"/>
<rect x="305.75" y="216.90" width="5.2" height="5.2" transform="rotate(45 308.36 219.50)" fill="#9cc4cc" stroke="#7aa4b0" stroke-width="0.9"/>
<rect x="316.19" y="230.40" width="5.2" height="5.2" transform="rotate(45 318.79 233.00)" fill="#8a9ab4" stroke="#6878a0" stroke-width="0.9"/>
<rect x="326.61" y="253.15" width="5.2" height="5.2" transform="rotate(45 329.21 255.75)" fill="#98b8a0" stroke="#789880" stroke-width="0.9"/>
<rect x="337.04" y="208.65" width="5.2" height="5.2" transform="rotate(45 339.64 211.25)" fill="#9ea2c4" stroke="#8888b8" stroke-width="0.9"/>
<text x="313.0" y="371.9" font-size="8.3" fill="#6e6964" text-anchor="middle">雾子</text>
<rect x="370.65" y="133.79" width="10.43" height="224.71" fill="url(#p3_0)" stroke="#4a3a36" stroke-width="1.3"/>
<rect x="381.08" y="221.56" width="10.43" height="136.94" fill="url(#p3_1)" stroke="#3e3a38" stroke-width="1.3"/>
<rect x="391.51" y="205.73" width="10.43" height="152.77" fill="url(#p3_2)" stroke="#463e2a" stroke-width="1.3"/>
<rect x="401.94" y="253.26" width="10.43" height="105.24" fill="url(#p3_3)" stroke="#34474c" stroke-width="1.3"/>
<rect x="412.37" y="264.65" width="10.43" height="93.85" fill="url(#p3_4)" stroke="#34404e" stroke-width="1.3"/>
<rect x="422.80" y="262.44" width="10.43" height="96.06" fill="url(#p3_5)" stroke="#36463a" stroke-width="1.3"/>
<rect x="433.23" y="289.57" width="10.43" height="68.93" fill="url(#p3_6)" stroke="#3c4060" stroke-width="1.3"/>
<text transform="translate(379.26,130.79) rotate(-90) scale(1.0,1.12)" font-size="8.5" fill="#8a847f">157.69%</text>
<text transform="translate(389.69,218.56) rotate(-90) scale(1.0,1.12)" font-size="8.5" fill="#8a847f">96.10%</text>
<text transform="translate(400.12,202.73) rotate(-90) scale(1.0,1.12)" font-size="8.5" fill="#8a847f">107.21%</text>
<text transform="translate(410.55,250.26) rotate(-90) scale(1.0,1.12)" font-size="8.5" fill="#8a847f">73.85%</text>
<text transform="translate(420.98,261.65) rotate(-90) scale(1.0,1.12)" font-size="8.5" fill="#8a847f">65.86%</text>
<text transform="translate(431.41,259.44) rotate(-90) scale(1.0,1.12)" font-size="8.5" fill="#8a847f">67.41%</text>
<text transform="translate(441.84,286.57) rotate(-90) scale(1.0,1.12)" font-size="8.5" fill="#8a847f">48.37%</text>
<text transform="translate(452.27,354.50) rotate(-90) scale(1.0,1.12)" font-size="8.5" fill="#8a847f">0.00%</text>
<rect x="446.37" y="356.00" width="5" height="5" transform="rotate(45 448.87 358.50)" fill="#fbf7f4" stroke="#a8a0b4" stroke-width="0.9"/>
<rect x="373.26" y="202.40" width="5.2" height="5.2" transform="rotate(45 375.86 205.00)" fill="#c48a86" stroke="#a87070" stroke-width="0.9"/>
<rect x="383.69" y="223.40" width="5.2" height="5.2" transform="rotate(45 386.29 226.00)" fill="#8a8480" stroke="#6e6864" stroke-width="0.9"/>
<rect x="394.12" y="211.40" width="5.2" height="5.2" transform="rotate(45 396.72 214.00)" fill="#cfc878" stroke="#b0a860" stroke-width="0.9"/>
<rect x="404.55" y="218.40" width="5.2" height="5.2" transform="rotate(45 407.15 221.00)" fill="#9cc4cc" stroke="#7aa4b0" stroke-width="0.9"/>
<rect x="414.98" y="216.40" width="5.2" height="5.2" transform="rotate(45 417.58 219.00)" fill="#8a9ab4" stroke="#6878a0" stroke-width="0.9"/>
<rect x="425.41" y="222.40" width="5.2" height="5.2" transform="rotate(45 428.01 225.00)" fill="#98b8a0" stroke="#789880" stroke-width="0.9"/>
<rect x="435.84" y="244.40" width="5.2" height="5.2" transform="rotate(45 438.44 247.00)" fill="#9ea2c4" stroke="#8888b8" stroke-width="0.9"/>
<text x="411.8" y="371.9" font-size="8.3" fill="#6e6964" text-anchor="middle">莫伊拉</text>
<rect x="469.45" y="314.70" width="10.43" height="43.80" fill="url(#p4_0)" stroke="#4a3a36" stroke-width="1.3"/>
<rect x="479.88" y="287.63" width="10.43" height="70.87" fill="url(#p4_1)" stroke="#3e3a38" stroke-width="1.3"/>
<rect x="490.31" y="277.26" width="10.43" height="81.24" fill="url(#p4_2)" stroke="#463e2a" stroke-width="1.3"/>
<rect x="500.74" y="265.43" width="10.43" height="93.07" fill="url(#p4_3)" stroke="#34474c" stroke-width="1.3"/>
<rect x="511.17" y="250.37" width="10.43" height="108.13" fill="url(#p4_4)" stroke="#34404e" stroke-width="1.3"/>
<rect x="521.60" y="258.59" width="10.43" height="99.91" fill="url(#p4_5)" stroke="#36463a" stroke-width="1.3"/>
<rect x="532.03" y="296.00" width="10.43" height="62.50" fill="url(#p4_6)" stroke="#3c4060" stroke-width="1.3"/>
<text transform="translate(478.06,311.70) rotate(-90) scale(1.0,1.12)" font-size="8.5" fill="#8a847f">30.74%</text>
<text transform="translate(488.49,284.63) rotate(-90) scale(1.0,1.12)" font-size="8.5" fill="#8a847f">49.73%</text>
<text transform="translate(498.92,274.26) rotate(-90) scale(1.0,1.12)" font-size="8.5" fill="#8a847f">57.01%</text>
<text transform="translate(509.35,262.43) rotate(-90) scale(1.0,1.12)" font-size="8.5" fill="#8a847f">65.31%</text>
<text transform="translate(519.78,247.37) rotate(-90) scale(1.0,1.12)" font-size="8.5" fill="#8a847f">75.88%</text>
<text transform="translate(530.22,255.59) rotate(-90) scale(1.0,1.12)" font-size="8.5" fill="#8a847f">70.11%</text>
<text transform="translate(540.64,293.00) rotate(-90) scale(1.0,1.12)" font-size="8.5" fill="#8a847f">43.86%</text>
<text transform="translate(551.08,354.50) rotate(-90) scale(1.0,1.12)" font-size="8.5" fill="#8a847f">0.00%</text>
<rect x="545.18" y="356.00" width="5" height="5" transform="rotate(45 547.68 358.50)" fill="#fbf7f4" stroke="#a8a0b4" stroke-width="0.9"/>
<rect x="472.06" y="231.65" width="5.2" height="5.2" transform="rotate(45 474.66 234.25)" fill="#c48a86" stroke="#a87070" stroke-width="0.9"/>
<rect x="482.49" y="224.40" width="5.2" height="5.2" transform="rotate(45 485.09 227.00)" fill="#8a8480" stroke="#6e6864" stroke-width="0.9"/>
<rect x="492.92" y="216.90" width="5.2" height="5.2" transform="rotate(45 495.52 219.50)" fill="#cfc878" stroke="#b0a860" stroke-width="0.9"/>
<rect x="503.35" y="211.15" width="5.2" height="5.2" transform="rotate(45 505.95 213.75)" fill="#9cc4cc" stroke="#7aa4b0" stroke-width="0.9"/>
<rect x="513.78" y="216.90" width="5.2" height="5.2" transform="rotate(45 516.38 219.50)" fill="#8a9ab4" stroke="#6878a0" stroke-width="0.9"/>
<rect x="524.22" y="201.90" width="5.2" height="5.2" transform="rotate(45 526.82 204.50)" fill="#98b8a0" stroke="#789880" stroke-width="0.9"/>
<rect x="534.64" y="192.40" width="5.2" height="5.2" transform="rotate(45 537.25 195.00)" fill="#9ea2c4" stroke="#8888b8" stroke-width="0.9"/>
<text x="510.6" y="371.9" font-size="8.3" fill="#6e6964" text-anchor="middle">安娜</text>
<rect x="568.25" y="345.03" width="10.43" height="13.47" fill="url(#p5_0)" stroke="#4a3a36" stroke-width="1.3"/>
<rect x="578.68" y="345.20" width="10.43" height="13.30" fill="url(#p5_1)" stroke="#3e3a38" stroke-width="1.3"/>
<rect x="589.11" y="316.06" width="10.43" height="42.44" fill="url(#p5_2)" stroke="#463e2a" stroke-width="1.3"/>
<rect x="599.54" y="334.77" width="10.43" height="23.73" fill="url(#p5_3)" stroke="#34474c" stroke-width="1.3"/>
<rect x="609.97" y="335.46" width="10.43" height="23.04" fill="url(#p5_4)" stroke="#34404e" stroke-width="1.3"/>
<rect x="620.40" y="337.18" width="10.43" height="21.32" fill="url(#p5_5)" stroke="#36463a" stroke-width="1.3"/>
<rect x="630.83" y="310.75" width="10.43" height="47.75" fill="url(#p5_6)" stroke="#3c4060" stroke-width="1.3"/>
<text transform="translate(576.87,342.03) rotate(-90) scale(1.0,1.12)" font-size="8.5" fill="#8a847f">9.45%</text>
<text transform="translate(587.29,342.20) rotate(-90) scale(1.0,1.12)" font-size="8.5" fill="#8a847f">9.33%</text>
<text transform="translate(597.73,313.06) rotate(-90) scale(1.0,1.12)" font-size="8.5" fill="#8a847f">29.78%</text>
<text transform="translate(608.15,331.77) rotate(-90) scale(1.0,1.12)" font-size="8.5" fill="#8a847f">16.65%</text>
<text transform="translate(618.59,332.46) rotate(-90) scale(1.0,1.12)" font-size="8.5" fill="#8a847f">16.17%</text>
<text transform="translate(629.01,334.18) rotate(-90) scale(1.0,1.12)" font-size="8.5" fill="#8a847f">14.96%</text>
<text transform="translate(639.45,307.75) rotate(-90) scale(1.0,1.12)" font-size="8.5" fill="#8a847f">33.51%</text>
<text transform="translate(649.88,354.50) rotate(-90) scale(1.0,1.12)" font-size="8.5" fill="#8a847f">0.00%</text>
<rect x="643.98" y="356.00" width="5" height="5" transform="rotate(45 646.48 358.50)" fill="#fbf7f4" stroke="#a8a0b4" stroke-width="0.9"/>
<rect x="570.87" y="226.15" width="5.2" height="5.2" transform="rotate(45 573.47 228.75)" fill="#c48a86" stroke="#a87070" stroke-width="0.9"/>
<rect x="581.29" y="214.40" width="5.2" height="5.2" transform="rotate(45 583.89 217.00)" fill="#8a8480" stroke="#6e6864" stroke-width="0.9"/>
<rect x="591.73" y="211.15" width="5.2" height="5.2" transform="rotate(45 594.33 213.75)" fill="#cfc878" stroke="#b0a860" stroke-width="0.9"/>
<rect x="602.15" y="189.90" width="5.2" height="5.2" transform="rotate(45 604.75 192.50)" fill="#9cc4cc" stroke="#7aa4b0" stroke-width="0.9"/>
<rect x="612.59" y="204.40" width="5.2" height="5.2" transform="rotate(45 615.19 207.00)" fill="#8a9ab4" stroke="#6878a0" stroke-width="0.9"/>
<rect x="623.01" y="214.90" width="5.2" height="5.2" transform="rotate(45 625.62 217.50)" fill="#98b8a0" stroke="#789880" stroke-width="0.9"/>
<rect x="633.45" y="194.90" width="5.2" height="5.2" transform="rotate(45 636.05 197.50)" fill="#9ea2c4" stroke="#8888b8" stroke-width="0.9"/>
<text x="609.4" y="371.9" font-size="8.3" fill="#6e6964" text-anchor="middle">巴蒂斯特</text>
<rect x="667.05" y="338.69" width="10.43" height="19.81" fill="url(#p6_0)" stroke="#4a3a36" stroke-width="1.3"/>
<rect x="677.48" y="325.68" width="10.43" height="32.82" fill="url(#p6_1)" stroke="#3e3a38" stroke-width="1.3"/>
<rect x="687.91" y="326.55" width="10.43" height="31.95" fill="url(#p6_2)" stroke="#463e2a" stroke-width="1.3"/>
<rect x="698.34" y="331.97" width="10.43" height="26.53" fill="url(#p6_3)" stroke="#34474c" stroke-width="1.3"/>
<rect x="708.77" y="328.72" width="10.43" height="29.78" fill="url(#p6_4)" stroke="#34404e" stroke-width="1.3"/>
<rect x="719.20" y="323.16" width="10.43" height="35.34" fill="url(#p6_5)" stroke="#36463a" stroke-width="1.3"/>
<rect x="729.63" y="312.52" width="10.43" height="45.98" fill="url(#p6_6)" stroke="#3c4060" stroke-width="1.3"/>
<text transform="translate(675.66,335.69) rotate(-90) scale(1.0,1.12)" font-size="8.5" fill="#8a847f">13.90%</text>
<text transform="translate(686.09,322.68) rotate(-90) scale(1.0,1.12)" font-size="8.5" fill="#8a847f">23.03%</text>
<text transform="translate(696.52,323.55) rotate(-90) scale(1.0,1.12)" font-size="8.5" fill="#8a847f">22.42%</text>
<text transform="translate(706.95,328.97) rotate(-90) scale(1.0,1.12)" font-size="8.5" fill="#8a847f">18.62%</text>
<text transform="translate(717.38,325.72) rotate(-90) scale(1.0,1.12)" font-size="8.5" fill="#8a847f">20.90%</text>
<text transform="translate(727.81,320.16) rotate(-90) scale(1.0,1.12)" font-size="8.5" fill="#8a847f">24.80%</text>
<text transform="translate(738.25,309.52) rotate(-90) scale(1.0,1.12)" font-size="8.5" fill="#8a847f">32.27%</text>
<text transform="translate(748.67,354.50) rotate(-90) scale(1.0,1.12)" font-size="8.5" fill="#8a847f">0.00%</text>
<rect x="742.77" y="356.00" width="5" height="5" transform="rotate(45 745.27 358.50)" fill="#fbf7f4" stroke="#a8a0b4" stroke-width="0.9"/>
<rect x="669.66" y="227.40" width="5.2" height="5.2" transform="rotate(45 672.26 230.00)" fill="#c48a86" stroke="#a87070" stroke-width="0.9"/>
<rect x="680.09" y="234.40" width="5.2" height="5.2" transform="rotate(45 682.69 237.00)" fill="#8a8480" stroke="#6e6864" stroke-width="0.9"/>
<rect x="690.52" y="211.15" width="5.2" height="5.2" transform="rotate(45 693.12 213.75)" fill="#cfc878" stroke="#b0a860" stroke-width="0.9"/>
<rect x="700.95" y="197.40" width="5.2" height="5.2" transform="rotate(45 703.55 200.00)" fill="#9cc4cc" stroke="#7aa4b0" stroke-width="0.9"/>
<rect x="711.38" y="212.90" width="5.2" height="5.2" transform="rotate(45 713.99 215.50)" fill="#8a9ab4" stroke="#6878a0" stroke-width="0.9"/>
<rect x="721.81" y="218.65" width="5.2" height="5.2" transform="rotate(45 724.41 221.25)" fill="#98b8a0" stroke="#789880" stroke-width="0.9"/>
<rect x="732.25" y="218.15" width="5.2" height="5.2" transform="rotate(45 734.85 220.75)" fill="#9ea2c4" stroke="#8888b8" stroke-width="0.9"/>
<text x="708.2" y="371.9" font-size="8.3" fill="#6e6964" text-anchor="middle">伊拉锐</text>
<rect x="765.85" y="336.64" width="10.43" height="21.86" fill="url(#p7_0)" stroke="#4a3a36" stroke-width="1.3"/>
<rect x="776.28" y="331.05" width="10.43" height="27.45" fill="url(#p7_1)" stroke="#3e3a38" stroke-width="1.3"/>
<rect x="786.71" y="332.66" width="10.43" height="25.84" fill="url(#p7_2)" stroke="#463e2a" stroke-width="1.3"/>
<rect x="797.14" y="321.88" width="10.43" height="36.62" fill="url(#p7_3)" stroke="#34474c" stroke-width="1.3"/>
<rect x="807.57" y="322.88" width="10.43" height="35.62" fill="url(#p7_4)" stroke="#34404e" stroke-width="1.3"/>
<rect x="818.00" y="322.56" width="10.43" height="35.94" fill="url(#p7_5)" stroke="#36463a" stroke-width="1.3"/>
<rect x="828.43" y="328.28" width="10.43" height="30.22" fill="url(#p7_6)" stroke="#3c4060" stroke-width="1.3"/>
<text transform="translate(774.47,333.64) rotate(-90) scale(1.0,1.12)" font-size="8.5" fill="#8a847f">15.34%</text>
<text transform="translate(784.89,328.05) rotate(-90) scale(1.0,1.12)" font-size="8.5" fill="#8a847f">19.26%</text>
<text transform="translate(795.33,329.66) rotate(-90) scale(1.0,1.12)" font-size="8.5" fill="#8a847f">18.13%</text>
<text transform="translate(805.75,318.88) rotate(-90) scale(1.0,1.12)" font-size="8.5" fill="#8a847f">25.70%</text>
<text transform="translate(816.19,319.88) rotate(-90) scale(1.0,1.12)" font-size="8.5" fill="#8a847f">25.00%</text>
<text transform="translate(826.62,319.56) rotate(-90) scale(1.0,1.12)" font-size="8.5" fill="#8a847f">25.22%</text>
<text transform="translate(837.05,325.28) rotate(-90) scale(1.0,1.12)" font-size="8.5" fill="#8a847f">21.21%</text>
<text transform="translate(847.48,354.50) rotate(-90) scale(1.0,1.12)" font-size="8.5" fill="#8a847f">0.00%</text>
<rect x="841.58" y="356.00" width="5" height="5" transform="rotate(45 844.08 358.50)" fill="#fbf7f4" stroke="#a8a0b4" stroke-width="0.9"/>
<rect x="768.47" y="232.90" width="5.2" height="5.2" transform="rotate(45 771.07 235.50)" fill="#c48a86" stroke="#a87070" stroke-width="0.9"/>
<rect x="778.89" y="236.15" width="5.2" height="5.2" transform="rotate(45 781.50 238.75)" fill="#8a8480" stroke="#6e6864" stroke-width="0.9"/>
<rect x="789.33" y="222.90" width="5.2" height="5.2" transform="rotate(45 791.93 225.50)" fill="#cfc878" stroke="#b0a860" stroke-width="0.9"/>
<rect x="799.75" y="192.40" width="5.2" height="5.2" transform="rotate(45 802.36 195.00)" fill="#9cc4cc" stroke="#7aa4b0" stroke-width="0.9"/>
<rect x="810.19" y="239.40" width="5.2" height="5.2" transform="rotate(45 812.79 242.00)" fill="#8a9ab4" stroke="#6878a0" stroke-width="0.9"/>
<rect x="820.62" y="189.40" width="5.2" height="5.2" transform="rotate(45 823.22 192.00)" fill="#98b8a0" stroke="#789880" stroke-width="0.9"/>
<rect x="831.05" y="221.90" width="5.2" height="5.2" transform="rotate(45 833.65 224.50)" fill="#9ea2c4" stroke="#8888b8" stroke-width="0.9"/>
<text x="807.0" y="371.9" font-size="8.3" fill="#6e6964" text-anchor="middle">禅雅塔</text>
<rect x="864.65" y="350.01" width="10.43" height="8.49" fill="url(#p8_0)" stroke="#4a3a36" stroke-width="1.3"/>
<rect x="875.08" y="344.48" width="10.43" height="14.02" fill="url(#p8_1)" stroke="#3e3a38" stroke-width="1.3"/>
<rect x="885.51" y="348.84" width="10.43" height="9.66" fill="url(#p8_2)" stroke="#463e2a" stroke-width="1.3"/>
<rect x="895.94" y="342.14" width="10.43" height="16.36" fill="url(#p8_3)" stroke="#34474c" stroke-width="1.3"/>
<rect x="906.37" y="348.72" width="10.43" height="9.78" fill="url(#p8_4)" stroke="#34404e" stroke-width="1.3"/>
<rect x="916.80" y="319.31" width="10.43" height="39.19" fill="url(#p8_5)" stroke="#36463a" stroke-width="1.3"/>
<rect x="927.23" y="341.24" width="10.43" height="17.26" fill="url(#p8_6)" stroke="#3c4060" stroke-width="1.3"/>
<text transform="translate(873.26,347.01) rotate(-90) scale(1.0,1.12)" font-size="8.5" fill="#8a847f">5.96%</text>
<text transform="translate(883.69,341.48) rotate(-90) scale(1.0,1.12)" font-size="8.5" fill="#8a847f">9.84%</text>
<text transform="translate(894.12,345.84) rotate(-90) scale(1.0,1.12)" font-size="8.5" fill="#8a847f">6.78%</text>
<text transform="translate(904.55,339.14) rotate(-90) scale(1.0,1.12)" font-size="8.5" fill="#8a847f">11.48%</text>
<text transform="translate(914.99,345.72) rotate(-90) scale(1.0,1.12)" font-size="8.5" fill="#8a847f">6.86%</text>
<text transform="translate(925.41,316.31) rotate(-90) scale(1.0,1.12)" font-size="8.5" fill="#8a847f">27.50%</text>
<text transform="translate(935.85,338.24) rotate(-90) scale(1.0,1.12)" font-size="8.5" fill="#8a847f">12.11%</text>
<text transform="translate(946.27,354.50) rotate(-90) scale(1.0,1.12)" font-size="8.5" fill="#8a847f">0.00%</text>
<rect x="940.38" y="356.00" width="5" height="5" transform="rotate(45 942.88 358.50)" fill="#fbf7f4" stroke="#a8a0b4" stroke-width="0.9"/>
<rect x="867.26" y="242.70" width="5.2" height="5.2" transform="rotate(45 869.87 245.30)" fill="#c48a86" stroke="#a87070" stroke-width="0.9"/>
<rect x="877.69" y="219.90" width="5.2" height="5.2" transform="rotate(45 880.29 222.50)" fill="#8a8480" stroke="#6e6864" stroke-width="0.9"/>
<rect x="888.12" y="234.40" width="5.2" height="5.2" transform="rotate(45 890.73 237.00)" fill="#cfc878" stroke="#b0a860" stroke-width="0.9"/>
<rect x="898.55" y="172.90" width="5.2" height="5.2" transform="rotate(45 901.15 175.50)" fill="#9cc4cc" stroke="#7aa4b0" stroke-width="0.9"/>
<rect x="908.99" y="205.40" width="5.2" height="5.2" transform="rotate(45 911.59 208.00)" fill="#8a9ab4" stroke="#6878a0" stroke-width="0.9"/>
<rect x="919.41" y="178.70" width="5.2" height="5.2" transform="rotate(45 922.01 181.30)" fill="#98b8a0" stroke="#789880" stroke-width="0.9"/>
<rect x="929.85" y="150.80" width="5.2" height="5.2" transform="rotate(45 932.45 153.40)" fill="#9ea2c4" stroke="#8888b8" stroke-width="0.9"/>
<text x="905.8" y="371.9" font-size="8.3" fill="#6e6964" text-anchor="middle">布丽吉塔</text>
<rect x="963.45" y="319.28" width="10.43" height="39.22" fill="url(#p9_0)" stroke="#4a3a36" stroke-width="1.3"/>
<rect x="973.88" y="334.83" width="10.43" height="23.67" fill="url(#p9_1)" stroke="#3e3a38" stroke-width="1.3"/>
<rect x="984.31" y="334.65" width="10.43" height="23.85" fill="url(#p9_2)" stroke="#463e2a" stroke-width="1.3"/>
<rect x="994.74" y="333.61" width="10.43" height="24.89" fill="url(#p9_3)" stroke="#34474c" stroke-width="1.3"/>
<rect x="1005.17" y="342.77" width="10.43" height="15.73" fill="url(#p9_4)" stroke="#34404e" stroke-width="1.3"/>
<rect x="1015.60" y="350.61" width="10.43" height="7.89" fill="url(#p9_5)" stroke="#36463a" stroke-width="1.3"/>
<rect x="1026.03" y="347.87" width="10.43" height="10.63" fill="url(#p9_6)" stroke="#3c4060" stroke-width="1.3"/>
<text transform="translate(972.06,316.28) rotate(-90) scale(1.0,1.12)" font-size="8.5" fill="#8a847f">27.52%</text>
<text transform="translate(982.49,331.83) rotate(-90) scale(1.0,1.12)" font-size="8.5" fill="#8a847f">16.61%</text>
<text transform="translate(992.92,331.65) rotate(-90) scale(1.0,1.12)" font-size="8.5" fill="#8a847f">16.74%</text>
<text transform="translate(1003.35,330.61) rotate(-90) scale(1.0,1.12)" font-size="8.5" fill="#8a847f">17.47%</text>
<text transform="translate(1013.78,339.77) rotate(-90) scale(1.0,1.12)" font-size="8.5" fill="#8a847f">11.04%</text>
<text transform="translate(1024.21,347.61) rotate(-90) scale(1.0,1.12)" font-size="8.5" fill="#8a847f">5.54%</text>
<text transform="translate(1034.64,344.87) rotate(-90) scale(1.0,1.12)" font-size="8.5" fill="#8a847f">7.46%</text>
<text transform="translate(1045.08,354.50) rotate(-90) scale(1.0,1.12)" font-size="8.5" fill="#8a847f">0.00%</text>
<rect x="1039.17" y="356.00" width="5" height="5" transform="rotate(45 1041.67 358.50)" fill="#fbf7f4" stroke="#a8a0b4" stroke-width="0.9"/>
<rect x="966.06" y="219.90" width="5.2" height="5.2" transform="rotate(45 968.66 222.50)" fill="#c48a86" stroke="#a87070" stroke-width="0.9"/>
<rect x="976.49" y="244.40" width="5.2" height="5.2" transform="rotate(45 979.09 247.00)" fill="#8a8480" stroke="#6e6864" stroke-width="0.9"/>
<rect x="986.92" y="236.15" width="5.2" height="5.2" transform="rotate(45 989.52 238.75)" fill="#cfc878" stroke="#b0a860" stroke-width="0.9"/>
<rect x="997.35" y="219.90" width="5.2" height="5.2" transform="rotate(45 999.95 222.50)" fill="#9cc4cc" stroke="#7aa4b0" stroke-width="0.9"/>
<rect x="1007.78" y="203.65" width="5.2" height="5.2" transform="rotate(45 1010.38 206.25)" fill="#8a9ab4" stroke="#6878a0" stroke-width="0.9"/>
<rect x="1018.21" y="253.65" width="5.2" height="5.2" transform="rotate(45 1020.81 256.25)" fill="#98b8a0" stroke="#789880" stroke-width="0.9"/>
<rect x="1028.64" y="239.40" width="5.2" height="5.2" transform="rotate(45 1031.24 242.00)" fill="#9ea2c4" stroke="#8888b8" stroke-width="0.9"/>
<text x="1004.6" y="371.9" font-size="8.3" fill="#6e6964" text-anchor="middle">生命之梭</text>
<text transform="translate(25.5,222.5) rotate(-90)" font-size="8" fill="#a39d98" text-anchor="middle"><tspan fill="#77716c">出场率</tspan> (柱状图)</text>
<text transform="translate(1091,216) rotate(-90)" font-size="8" fill="#a39d98" text-anchor="middle"><tspan fill="#77716c">胜率</tspan> (菱形图)</text>
<text x="409" y="37" font-size="23.5" fill="#66615c" stroke="#66615c" stroke-width="0.15" textLength="300" lengthAdjust="spacingAndGlyphs">支援英雄等效出场率◇各分段</text>
<text x="482.5" y="61.8" font-size="13" fill="#8a8580" textLength="152" lengthAdjust="spacingAndGlyphs">2024年07月06日-07月12日</text>
<text x="78.5" y="69.3" font-size="9.2" fill="#b5afa9" textLength="158" lengthAdjust="spacingAndGlyphs">等效出场率200%=每场比赛双方均使用</text>
<text x="1049" y="56.5" font-size="9.4" fill="#aaa49e" text-anchor="end">第11赛季 仅统计竞技模式</text>
<text x="1049" y="69" font-size="9.4" fill="#aaa49e" text-anchor="end">仅包含国际服</text>
<path d="M741 16.5 h13.5 a4 4 0 0 1 4 4 v9.5 h10 a4 4 0 0 1 4 4 v9.5 a4 4 0 0 1 -4 4 h-10 v10 a4 4 0 0 1 -4 4 h-13.5 a4 4 0 0 1 -4 -4 v-10 h-6 a4 4 0 0 1 -4 -4 v-9.5 a4 4 0 0 1 4 -4 h6 v-9.5 a4 4 0 0 1 4 -4 z" fill="#e8525f" stroke="#6e2a35" stroke-width="1.3"/>
<path d="M1077.3 14.6 V31.4 M1094.8 19 V27.5 Q1094.8 31.4 1090 31.4 H1085.6 M1107 14.8 L1100.2 27.7 H1112.4 M1109.8 15 V31.4" fill="none" stroke="#0f4a5e" stroke-width="6.4" stroke-linecap="round" stroke-linejoin="round"/>
<ellipse cx="1090.3" cy="18.9" rx="4.6" ry="4.0" fill="none" stroke="#0f4a5e" stroke-width="6.4"/>
<path d="M1077.3 14.6 V31.4 M1094.8 19 V27.5 Q1094.8 31.4 1090 31.4 H1085.6 M1107 14.8 L1100.2 27.7 H1112.4 M1109.8 15 V31.4" fill="none" stroke="#2ea8dc" stroke-width="4" stroke-linecap="round" stroke-linejoin="round"/>
<ellipse cx="1090.3" cy="18.9" rx="4.6" ry="4.0" fill="none" stroke="#2ea8dc" stroke-width="4"/>
<g fill="#f29e26" stroke="#8e5c14" stroke-width="0.9" stroke-linejoin="round">
<path d="M17 11 Q26 6.5 35 6 Q37.5 9 36.5 14 Q46 12 59 15.5 Q50 17.5 42 19 L36 30 L25 34 Z"/>
<path d="M8.5 16 L17.5 11 L26.5 36.5 L16 39.5 Z"/>
<ellipse cx="11.5" cy="12.8" rx="6.2" ry="3.8" transform="rotate(-30 11.5 12.8)"/>
<path d="M17.5 42 L23.5 40.5 L27.8 58.5 L26.3 58.8 Z"/>
<ellipse cx="18.8" cy="39.3" rx="6.5" ry="3.2" transform="rotate(-18 18.8 39.3)"/>
</g>
<text transform="matrix(1.0769 0.0000 0.0000 0.8667 24.4231 29.6333)" font-size="18" font-weight="bold" fill="#fbf3ea" stroke="#fbf3ea" stroke-width="3.0" stroke-linejoin="round">M</text>
<text transform="matrix(0.9091 0.0000 0.0000 0.8667 40.0909 29.6333)" font-size="18" font-weight="bold" fill="#fbf3ea" stroke="#fbf3ea" stroke-width="3.0" stroke-linejoin="round">E</text>
<text transform="matrix(1.0909 0.0000 0.0000 0.8667 51.0000 29.6333)" font-size="18" font-weight="bold" fill="#fbf3ea" stroke="#fbf3ea" stroke-width="3.0" stroke-linejoin="round">T</text>
<text transform="matrix(1.1154 0.0000 0.0000 0.8667 62.5000 29.6333)" font-size="18" font-weight="bold" fill="#fbf3ea" stroke="#fbf3ea" stroke-width="3.0" stroke-linejoin="round">A</text>
<text transform="matrix(0.8056 0.0000 0.0000 0.9444 27.0000 49.6667)" font-size="18" font-weight="bold" fill="#fbf3ea" stroke="#fbf3ea" stroke-width="2.6500000000000004" stroke-linejoin="round">集</text>
<text transform="matrix(0.8611 0.0000 0.0000 0.9444 43.5000 49.6667)" font-size="18" font-weight="bold" fill="#fbf3ea" stroke="#fbf3ea" stroke-width="2.6500000000000004" stroke-linejoin="round">结</text>
<text transform="matrix(0.9167 0.0000 0.0000 0.9444 60.5000 49.6667)" font-size="18" font-weight="bold" fill="#fbf3ea" stroke="#fbf3ea" stroke-width="2.6500000000000004" stroke-linejoin="round">令</text>
<text transform="matrix(1.0769 0.0000 0.0000 0.8667 24.4231 29.6333)" font-size="18" font-weight="bold" fill="#225a8e" stroke="#225a8e" stroke-width="0.8" stroke-linejoin="round">M</text>
<text transform="matrix(0.9091 0.0000 0.0000 0.8667 40.0909 29.6333)" font-size="18" font-weight="bold" fill="#225a8e" stroke="#225a8e" stroke-width="0.8" stroke-linejoin="round">E</text>
<text transform="matrix(1.0909 0.0000 0.0000 0.8667 51.0000 29.6333)" font-size="18" font-weight="bold" fill="#225a8e" stroke="#225a8e" stroke-width="0.8" stroke-linejoin="round">T</text>
<text transform="matrix(1.1154 0.0000 0.0000 0.8667 62.5000 29.6333)" font-size="18" font-weight="bold" fill="#225a8e" stroke="#225a8e" stroke-width="0.8" stroke-linejoin="round">A</text>
<text transform="matrix(0.8056 0.0000 0.0000 0.9444 27.0000 49.6667)" font-size="18" font-weight="bold" fill="#225a8e" stroke="#225a8e" stroke-width="0.45" stroke-linejoin="round">集</text>
<text transform="matrix(0.8611 0.0000 0.0000 0.9444 43.5000 49.6667)" font-size="18" font-weight="bold" fill="#225a8e" stroke="#225a8e" stroke-width="0.45" stroke-linejoin="round">结</text>
<text transform="matrix(0.9167 0.0000 0.0000 0.9444 60.5000 49.6667)" font-size="18" font-weight="bold" fill="#225a8e" stroke="#225a8e" stroke-width="0.45" stroke-linejoin="round">令</text>
<text x="1030" y="391.5" font-size="17" font-weight="bold" fill="#fcf8f3" stroke="#dfd7cd" stroke-width="0.8" textLength="78" lengthAdjust="spacingAndGlyphs">守望at者语</text>
<rect x="1" y="171" width="1117" height="57.5" fill="#caa5c0" fill-opacity="0.65"/>
<g fill="#ffffff" stroke="#ffffff" stroke-linejoin="round" font-weight="bold">
<text transform="matrix(1.0667 0.0000 0.0000 1.0450 320.9333 210.8000)" font-size="30" stroke-width="0.6">2</text>
<text transform="matrix(1.0000 0.0000 0.0000 1.0450 338.7000 210.8000)" font-size="30" stroke-width="0.6">0</text>
<text transform="matrix(1.1133 0.0000 0.0000 1.0450 355.1867 210.8000)" font-size="30" stroke-width="0.6">2</text>
<text transform="matrix(1.0412 0.0000 0.0000 1.0450 374.5000 210.8000)" font-size="30" stroke-width="0.6">4</text>
<text transform="matrix(0.9355 0.0000 0.0000 0.9355 394.7355 210.3226)" font-size="30" stroke-width="1.8">年</text>
<text transform="matrix(0.8000 0.0000 0.0000 1.0450 425.4000 210.8000)" font-size="30" stroke-width="0.6">1</text>
<text transform="matrix(1.0000 0.0000 0.0000 1.0450 443.0000 210.8000)" font-size="30" stroke-width="0.6">2</text>
<text transform="matrix(0.9840 0.0000 0.0000 0.9241 463.4000 209.3793)" font-size="30" stroke-width="1.8">月</text>
<text transform="matrix(0.9600 0.0000 0.0000 1.0450 492.0400 210.8000)" font-size="30" stroke-width="0.6">2</text>
<text transform="matrix(0.9267 0.0000 0.0000 1.0450 510.7733 210.8000)" font-size="30" stroke-width="0.6">7</text>
<text transform="matrix(0.9565 0.0000 0.0000 0.8897 529.1304 208.5517)" font-size="30" stroke-width="1.8">日</text>
<text transform="matrix(0.8774 0.0000 0.0000 0.8871 560.8774 209.5645)" font-size="30" stroke-width="1.8">武</text>
<text transform="matrix(0.8129 0.0000 0.0000 0.9167 591.8129 209.4167)" font-size="30" stroke-width="1.8">汉</text>
<text transform="matrix(0.9000 0.0000 0.0000 0.8871 619.1000 208.1774)" font-size="30" stroke-width="1.8">人</text>
<text transform="matrix(1.0250 0.0000 0.0000 0.8643 649.4500 208.6786)" font-size="30" stroke-width="1.8">口</text>
<text transform="matrix(0.8719 0.0000 0.0000 0.8594 680.1719 209.7031)" font-size="30" stroke-width="1.8">流</text>
<text transform="matrix(0.9654 0.0000 0.0000 0.9032 709.3346 209.4839)" font-size="30" stroke-width="1.8">向</text>
<text transform="matrix(0.9300 0.0000 0.0000 0.8906 739.7000 210.0469)" font-size="30" stroke-width="1.8">实</text>
<text transform="matrix(0.8690 0.0000 0.0000 0.8871 769.9310 209.5645)" font-size="30" stroke-width="1.8">时</text>
</g>
</svg></body></html>
